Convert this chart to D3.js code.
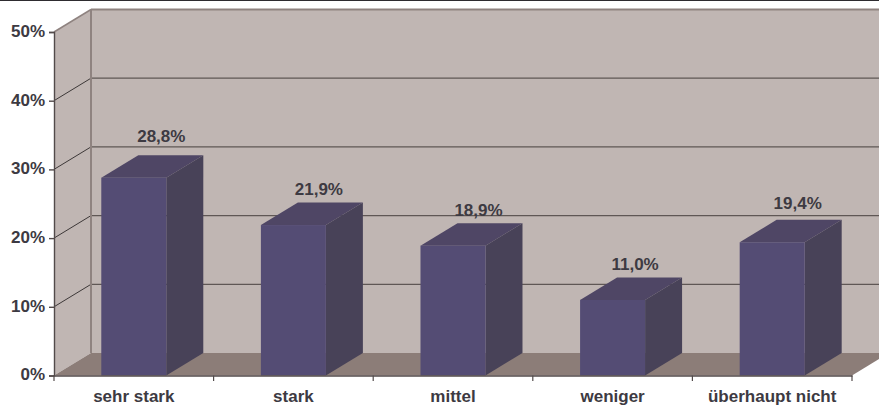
<!DOCTYPE html>
<html><head><meta charset="utf-8">
<script src="https://cdnjs.cloudflare.com/ajax/libs/d3/7.8.5/d3.min.js"></script>
<style>html,body{margin:0;padding:0;background:#fff;overflow:hidden}
text{font-family:"Liberation Sans",Arial,sans-serif;font-weight:bold;fill:#3d3a42}</style>
</head><body><svg id="c" width="879" height="409"></svg>
<script>
const categories = ["sehr stark","stark","mittel","weniger","überhaupt nicht"];
const values = [28.8,21.9,18.9,11.0,19.4];
const valueLabels = ["28,8%","21,9%","18,9%","11,0%","19,4%"];
const yTicks = [0,10,20,30,40,50];
const labelNudgeY = [-1,5,5,5,2];
const labelNudgeX = [2,0,0,-3,0];

const W=879,H=409, pLeft=54, pRight=852, pBottom=375.5, pTop=32, dx=37, dy=-22.5, barW=65, fs=17;
const svg=d3.select("#c");
const x=d3.scaleBand().domain(categories).range([pLeft,pRight]).paddingInner(0.5926).paddingOuter(0.2963);
const y=d3.scaleLinear().domain([0,50]).range([pBottom,pTop]);
const pts=a=>a.map(p=>p.join(",")).join(" ");

svg.append("rect").attr("x",0).attr("y",0).attr("width",W).attr("height",1).attr("fill","#2e2c30");
// back wall
svg.append("rect").attr("x",pLeft+dx).attr("y",pTop+dy).attr("width",W-pLeft-dx).attr("height",pBottom-pTop)
  .attr("fill","#c0b6b3");
// side wall
svg.append("polygon").attr("points",pts([[pLeft,pBottom],[pLeft+dx,pBottom+dy],[pLeft+dx,pTop+dy],[pLeft,pTop]])).attr("fill","#c0b6b3");
// floor
svg.append("polygon").attr("points",pts([[pLeft,pBottom],[pLeft+dx,pBottom+dy],[pRight+dx,pBottom+dy],[pRight,pBottom]])).attr("fill","#8c7d78");
// gridlines
svg.selectAll("line.g").data(yTicks.filter(t=>t>0&&t<50)).join("line").attr("class","g")
  .attr("x1",pLeft+dx).attr("x2",W).attr("y1",d=>y(d)+dy).attr("y2",d=>y(d)+dy)
  .attr("stroke","#5f5755").attr("stroke-width",1.2);
svg.selectAll("line.s").data(yTicks.filter(t=>t>0&&t<50)).join("line").attr("class","s")
  .attr("x1",pLeft).attr("x2",pLeft+dx).attr("y1",d=>y(d)).attr("y2",d=>y(d)+dy)
  .attr("stroke","#3d3838").attr("stroke-width",1);
// wall edges
svg.append("line").attr("x1",pLeft+dx).attr("x2",W).attr("y1",pTop+dy).attr("y2",pTop+dy).attr("stroke","#8f8380").attr("stroke-width",2);
svg.append("line").attr("x1",pLeft+dx).attr("x2",pLeft+dx).attr("y1",pTop+dy).attr("y2",pBottom+dy).attr("stroke","#8f8380").attr("stroke-width",2);
svg.append("line").attr("x1",pLeft).attr("x2",pLeft+dx).attr("y1",pTop).attr("y2",pTop+dy).attr("stroke","#8f8380").attr("stroke-width",1.5);

// bars
const bars=svg.selectAll("g.b").data(values).join("g").attr("class","b");
const bx=(d,i)=>x(categories[i]);
bars.append("polygon").attr("fill","#4f4665").attr("points",(d,i)=>{const a=bx(d,i),t=y(d);
  return pts([[a,t],[a+dx,t+dy],[a+barW+dx,t+dy],[a+barW,t]]);});
bars.append("polygon").attr("fill","#484258").attr("points",(d,i)=>{const a=bx(d,i)+barW,t=y(d);
  return pts([[a,t],[a+dx,t+dy],[a+dx,pBottom+dy],[a,pBottom]]);});
bars.append("rect").attr("fill","#544c74").attr("x",bx).attr("y",d=>y(d)).attr("width",barW).attr("height",d=>pBottom-y(d));

// value labels
svg.selectAll("text.v").data(values).join("text").attr("class","v")
  .attr("x",(d,i)=>bx(d,i)+barW/2+25.5+labelNudgeX[i])
  .attr("y",(d,i)=>y(d)+dy-12.5+labelNudgeY[i])
  .attr("text-anchor","middle").attr("font-size",fs).text((d,i)=>valueLabels[i]);

// axes
const ya=d3.axisLeft(y).tickValues(yTicks).tickFormat(d=>d+"%").tickSize(5).tickPadding(4);
const yg=svg.append("g").attr("transform",`translate(${pLeft},-1)`).call(ya);
yg.selectAll("path,line").attr("transform","translate(0,1)").attr("stroke","#524a4a").attr("stroke-width",1.4);
yg.selectAll("text").attr("font-size",fs).attr("fill","#3d3a42").style("font-family",'"Liberation Sans",Arial,sans-serif');
const xa=d3.axisBottom(x).tickSize(0).tickPadding(14);
const xg=svg.append("g").attr("transform",`translate(0,${pBottom})`).call(xa);
xg.select("path").attr("stroke","#524a4a").attr("stroke-width",1.4);
xg.selectAll("text").attr("font-size",fs).attr("fill","#3d3a42").style("font-family",'"Liberation Sans",Arial,sans-serif');
const bounds=d3.range(categories.length+1);
svg.selectAll("line.xt").data(bounds).join("line").attr("class","xt")
  .attr("x1",i=>pLeft+i*x.step()).attr("x2",i=>pLeft+i*x.step()).attr("y1",pBottom).attr("y2",pBottom+5.5)
  .attr("stroke","#524a4a").attr("stroke-width",1.2);
</script></body></html>
